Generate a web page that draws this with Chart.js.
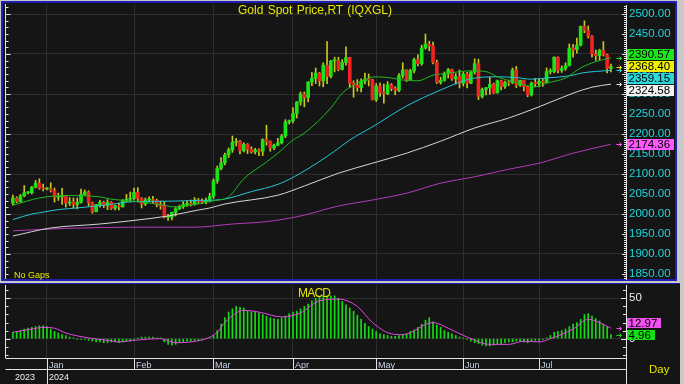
<!DOCTYPE html>
<html><head><meta charset="utf-8">
<script src="https://cdn.jsdelivr.net/npm/chart.js@4.4.1/dist/chart.umd.min.js"></script>
<style>
html,body{margin:0;padding:0;}
body{width:684px;height:384px;background:#c8c8c8;position:relative;overflow:hidden;font-family:Arial,"Liberation Sans",sans-serif;}
#mainPanel{position:absolute;left:1px;top:1px;width:676px;height:280px;box-sizing:border-box;border:2px solid #1f1fb4;background:#151515;}
#macdPanel{position:absolute;left:0;top:283px;width:680px;height:101px;box-sizing:border-box;border-top:1px solid #1f1fb4;background:#151515;}
canvas{position:absolute;}
#c1{left:0;top:0;}
#c2{left:0;top:283px;}
.t{position:absolute;white-space:nowrap;color:#e6e600;line-height:1;}
</style></head>
<body>
<div id="mainPanel"></div>
<div id="macdPanel"></div>
<canvas id="c1" width="684" height="281"></canvas>
<canvas id="c2" width="684" height="101"></canvas>
<div class="t" style="left:238px;top:4px;font-size:12px;word-spacing:1px;">Gold Spot Price,RT (IQXGL)</div>
<div class="t" style="left:14px;top:271px;font-size:9px;">No Gaps</div>
<div class="t" style="left:298px;top:287px;font-size:12px;letter-spacing:-0.8px;">MACD</div>
<div class="t" style="left:649px;top:364px;font-size:11.5px;">Day</div>
<script>
Chart.defaults.font.family = 'Arial, "Liberation Sans", sans-serif';

// ---- daily OHLC, index 0 = 19 Dec 2023 ... index 158 = 26 Jul 2024 ----
const openP = [
2027,2040,2031,2045,2053,2053,2067,2077,2065,2063,
2063,2058,2042,2043,2045,2027,2030,2024,2029,2049,
2055,2028,2006,2023,2029,2022,2029,2014,2020,2018,
2033,2037,2039,2054,2039,2025,2035,2035,2034,2024,
2020,1992,1992,2004,2013,2018,2024,2026,2024,2035,
2031,2030,2034,2044,2083,2114,2128,2148,2160,2179,
2182,2158,2174,2162,2155,2160,2157,2186,2181,2165,
2172,2178,2195,2230,2233,2251,2280,2300,2291,2330,
2339,2352,2333,2372,2344,2383,2383,2361,2379,2391,
2327,2322,2316,2332,2337,2335,2286,2320,2303,2301,
2323,2314,2309,2346,2360,2336,2358,2386,2376,2415,
2425,2421,2379,2329,2334,2351,2361,2338,2343,2327,
2350,2327,2355,2376,2294,2311,2316,2324,2303,2333,
2319,2329,2328,2360,2322,2334,2319,2298,2327,2326,
2332,2329,2356,2356,2392,2359,2364,2371,2415,2411,
2422,2469,2459,2445,2400,2396,2409,2398,2364];
const highP = [
2047,2043,2049,2071,2056,2069,2084,2088,2075,2066,
2078,2065,2052,2064,2046,2041,2040,2040,2062,2060,
2058,2030,2024,2034,2032,2036,2031,2023,2027,2036,
2049,2055,2065,2066,2041,2040,2043,2044,2037,2032,
2031,1999,2005,2016,2022,2031,2033,2035,2041,2039,
2038,2040,2052,2088,2120,2141,2152,2165,2195,2189,
2184,2178,2176,2168,2164,2163,2188,2222,2183,2175,
2189,2199,2236,2235,2266,2281,2305,2305,2331,2354,
2365,2354,2378,2431,2384,2392,2392,2386,2418,2392,
2333,2336,2338,2352,2350,2337,2326,2327,2325,2331,
2326,2318,2351,2378,2361,2362,2390,2398,2422,2450,
2432,2430,2385,2342,2355,2364,2362,2351,2360,2354,
2354,2356,2388,2387,2315,2316,2342,2327,2335,2335,
2332,2335,2365,2369,2335,2335,2320,2330,2339,2338,
2337,2365,2363,2393,2393,2370,2378,2425,2424,2440,
2470,2483,2470,2446,2410,2412,2431,2400,2375];
const lowP = [
2022,2028,2029,2043,2050,2050,2065,2062,2058,2060,
2055,2030,2034,2024,2017,2021,2015,2013,2027,2046,
2020,2002,2005,2017,2016,2011,2011,2010,2010,2017,
2030,2031,2035,2030,2015,2021,2030,2026,2018,2012,
1990,1984,1985,1995,2011,2014,2019,2020,2022,2026,
2026,2025,2030,2039,2077,2110,2123,2141,2154,2170,
2150,2155,2151,2152,2150,2146,2146,2172,2157,2161,
2170,2175,2191,2225,2228,2240,2272,2268,2280,2321,
2326,2320,2318,2326,2340,2355,2358,2360,2372,2316,
2292,2307,2305,2325,2320,2285,2281,2294,2277,2298,
2308,2298,2306,2340,2331,2335,2353,2370,2372,2412,
2408,2375,2326,2325,2332,2340,2334,2325,2315,2320,
2315,2326,2350,2286,2290,2298,2299,2301,2302,2310,
2314,2321,2326,2316,2319,2308,2293,2295,2318,2318,
2319,2328,2350,2353,2353,2354,2359,2370,2392,2402,
2420,2453,2440,2392,2384,2385,2395,2353,2355];
const closeP = [
2040,2031,2045,2053,2053,2067,2077,2065,2063,2063,
2058,2042,2043,2045,2027,2030,2024,2029,2049,2055,
2028,2006,2023,2029,2022,2029,2014,2020,2018,2033,
2037,2039,2054,2039,2025,2035,2035,2034,2024,2020,
1992,1992,2004,2013,2018,2024,2026,2024,2035,2031,
2030,2034,2044,2083,2114,2128,2148,2160,2179,2182,
2158,2174,2162,2155,2160,2157,2186,2181,2165,2172,
2178,2195,2230,2233,2251,2280,2300,2291,2330,2339,
2352,2333,2372,2344,2383,2383,2361,2379,2391,2327,
2322,2316,2332,2337,2335,2286,2320,2303,2301,2323,
2314,2309,2346,2360,2336,2358,2386,2376,2415,2425,
2421,2379,2329,2334,2351,2361,2338,2343,2327,2350,
2327,2355,2376,2294,2311,2316,2324,2303,2333,2319,
2329,2328,2360,2322,2334,2319,2298,2327,2326,2332,
2329,2356,2356,2392,2359,2364,2371,2415,2411,2422,
2469,2459,2445,2400,2396,2409,2398,2364,2368.40];

// ---- moving averages: [dayIndex, value] ----
const ma20 = [[0,2022],[7,2040],[14,2046],[23,2043],[26,2037],[32,2032],[40,2022],[42,2018],[47,2022],[53,2033],[57,2043],[61,2088],[67,2130],[70,2152],[74,2185],[77,2202],[84,2265],[87,2302],[90,2322],[94,2340],[96,2343],[100,2340],[103,2335],[107,2333],[111,2347],[115,2352],[121,2358],[125,2356],[128,2343],[132,2331],[138,2318],[141,2327],[146,2340],[150,2365],[154,2381],[158,2390.57]];
const ma50 = [[0,1986],[5,2000],[7,2003],[12,2011],[18,2016],[25,2023],[32,2031],[41,2032],[49,2034],[55,2036],[63,2056],[70,2074],[76,2102],[85,2157],[89,2185],[95,2218],[104,2270],[113,2310],[121,2338],[128,2343],[133,2341],[137,2337],[141,2340],[148,2347],[150,2352],[158,2359.15]];
const ma100 = [[0,1945],[10,1965],[23,1975],[32,1984],[41,1995],[49,2010],[52,2015],[56,2025],[70,2047],[77,2070],[86,2102],[95,2127],[104,2152],[113,2182],[122,2215],[131,2240],[139,2268],[148,2302],[153,2317],[158,2324.58]];
const ma200 = [[0,1958],[14,1964],[32,1967],[48,1967],[58,1975],[67,1981],[76,1995],[86,2020],[95,2035],[104,2052],[113,2077],[122,2093],[131,2112],[139,2127],[148,2152],[158,2174.36]];

// ---- MACD ----
const macdVals = [
8,9,10,12,13,14,15,16,16,15,
12,9,7,5,4,2,1,-1,-1,-1,
-2,-3,-4,-4,-5,-5,-4,-4,-5,-4,
-3,-3,-1,1,2,2,2,2,1,1,
-4,-7,-8,-7,-5,-4,-3,-3,-2,-2,
-1,0,1,4,10,18,26,33,37,40,
39,38,35,33,33,32,30,28,26,25,
24,26,28,31,33,34,37,40,43,47,
50,51,52,53,53,53,50,46,42,38,
34,29,24,19,15,12,9,6,5,4,
3,3,4,5,6,9,11,14,18,23,
26,21,17,14,10,8,6,4,2,1,
-1,-3,-5,-6,-8,-9,-9,-8,-7,-6,
-5,-4,-4,-3,-3,-4,-5,-3,-2,-2,
-1,1,4,8,9,10,12,15,18,20,
24,30,31,28,25,22,18,15,4.96];
const macdSignal = [[0,8],[5,12],[8,14],[11,13],[14,7],[20,1],[25,-2],[28,-4],[32,-2],[39,0],[43,-5],[47,-4],[51,0],[54,8],[56,20],[61,35],[65,33],[71,27],[76,32],[81,47],[86,49],[91,40],[95,20],[100,6],[103,5],[111,20],[115,13],[120,2],[126,-7],[131,-7],[135,-3],[139,-4],[142,0],[148,12],[152,24],[155,20],[158,12.97]];

// ---- axis labels ----
const monthIdx = [9,32,53,74,96,119,139];
const monthLbl = ['Jan','Feb','Mar','Apr','May','Jun','Jul'];
const yearIdx = [0,9];
const yearLbl = ['2023','2024'];
const priceTicks = [1850,1900,1950,2000,2050,2100,2150,2200,2250,2300,2350,2400,2450,2500];
const macdTicks = [0,50];

const xMin = -1.82, xMax = 161.98;
const pMin = 1837.5, pMax = 2522.5;
const mMin = -23.9, mMax = 66.5;

const toXY = arr => arr.map(p => ({x:p[0], y:p[1]}));
const last = arr => arr[arr.length-1][1];

function xScale(){
  return {type:'linear', min:xMin, max:xMax, offset:false,
    afterBuildTicks: s => { s.ticks = monthIdx.map(v => ({value:v})); },
    ticks:{display:false}, grid:{color:'#2e2e2e', drawTicks:false, offset:false}, border:{display:false},
    afterFit: s => { s.height = 0; s.paddingLeft = 0; s.paddingRight = 0; }};
}

function drawTags(ctx, chart, tags, h, gap){
  const a = chart.chartArea, y = chart.scales.y;
  const items = tags.map(t => Object.assign({}, t, {py: y.getPixelForValue(t.v)}));
  items.sort((p,q) => p.py - q.py);
  const f = items.findIndex(t => t.fixed);
  items[f].top = items[f].py - h/2;
  for (let j=f-1;j>=0;j--) items[j].top = Math.min(items[j].py - h/2, items[j+1].top - h - gap);
  for (let j=f+1;j<items.length;j++) items[j].top = Math.max(items[j].py - h/2, items[j-1].top + h + gap);
  ctx.font = '11.5px Arial';
  ctx.lineWidth = 1;
  items.forEach(t => {
    const ay = Math.round(t.py) + 0.5;
    ctx.strokeStyle = t.arrow;
    ctx.beginPath();
    ctx.moveTo(a.right-9.5, ay); ctx.lineTo(a.right-4.5, ay);
    ctx.moveTo(a.right-6.5, ay-2); ctx.lineTo(a.right-4.5, ay); ctx.lineTo(a.right-6.5, ay+2);
    ctx.stroke();
    const txt = t.v.toFixed(2);
    const w = Math.ceil(ctx.measureText(txt).width) + 5;
    const top = Math.round(t.top);
    ctx.fillStyle = t.bg;
    ctx.fillRect(Math.round(a.right)+1, top, w, h);
    ctx.fillStyle = '#000';
    ctx.textBaseline = 'middle';
    ctx.textAlign = 'left';
    ctx.fillText(txt, Math.round(a.right)+2.5, top + h/2 + 0.5);
  });
}

const mainDeco = {
  id:'mainDeco',
  afterDraw(chart){
    const ctx = chart.ctx, a = chart.chartArea, y = chart.scales.y;
    ctx.save();
    ctx.strokeStyle = '#e4e4e4'; ctx.lineWidth = 1;
    ctx.beginPath();
    const lx = Math.round(a.left) - 0.5;
    ctx.moveTo(lx, a.top - 1); ctx.lineTo(lx, a.bottom);
    for (let k=-1; k<60; k++){
      const v = 2500 - k*100/6;
      if (v < pMin) break;
      const py = Math.round(y.getPixelForValue(v)) + 0.5;
      const len = (k % 6 === 0) ? 5 : 3;
      ctx.moveTo(lx, py); ctx.lineTo(lx + len, py);
    }
    for (let v=1840; v<=2520; v+=5){
      const py = Math.round(y.getPixelForValue(v)) + 0.5;
      const len = (v % 50 === 0) ? 4 : 2;
      ctx.moveTo(a.right - len, py); ctx.lineTo(a.right, py);
    }
    ctx.stroke();
    drawTags(ctx, chart, [
      {v:last(ma20), bg:'#1ee61e', arrow:'#1ee61e'},
      {v:closeP[closeP.length-1], bg:'#f0f000', arrow:'#e6e600', fixed:true},
      {v:last(ma50), bg:'#2ad8dc', arrow:'#2ad8dc'},
      {v:last(ma100), bg:'#f2f2f2', arrow:'#f2f2f2'},
      {v:last(ma200), bg:'#ff58ff', arrow:'#ff58ff'}
    ], 11, 1);
    ctx.restore();
  }
};

const macdDeco = {
  id:'macdDeco',
  afterDraw(chart){
    const ctx = chart.ctx, a = chart.chartArea, y = chart.scales.y, x = chart.scales.x;
    ctx.save();
    ctx.strokeStyle = '#e4e4e4'; ctx.lineWidth = 1;
    ctx.beginPath();
    const lx = Math.round(a.left) - 0.5;
    ctx.moveTo(lx, a.top); ctx.lineTo(lx, a.bottom);
    for (let v=-20; v<=60; v+=10){
      const py = Math.round(y.getPixelForValue(v)) + 0.5;
      const len = (v % 50 === 0) ? 5 : 3;
      ctx.moveTo(lx, py); ctx.lineTo(lx + len, py);
      ctx.moveTo(a.right - len, py); ctx.lineTo(a.right, py);
    }
    const rx = Math.round(a.right) + 0.5;
    ctx.moveTo(rx, a.top); ctx.lineTo(rx, chart.height);
    const yb1 = Math.round(a.bottom) + 0.5, yb2 = yb1 + 11;
    ctx.moveTo(lx, yb1); ctx.lineTo(rx, yb1);
    ctx.moveTo(lx, yb2); ctx.lineTo(rx, yb2);
    monthIdx.forEach(i => {
      const px = Math.round(x.getPixelForValue(i)) + 0.5;
      ctx.moveTo(px, yb1); ctx.lineTo(px, yb2);
    });
    yearIdx.forEach(i => {
      if (i <= 0) return;
      const px = Math.round(x.getPixelForValue(i)) + 0.5;
      ctx.moveTo(px, yb2); ctx.lineTo(px, chart.height);
    });
    ctx.stroke();
    ctx.textAlign = 'left'; ctx.textBaseline = 'alphabetic';
    ctx.font = '9px Arial';
    ctx.fillStyle = '#c8d4e8';
    monthIdx.forEach((i,k) => ctx.fillText(monthLbl[k], Math.round(x.getPixelForValue(i)) + 2, yb1 + 9.5));
    ctx.fillStyle = '#f0f0f0';
    yearIdx.forEach((i,k) => ctx.fillText(yearLbl[k], Math.round(x.getPixelForValue(i)) + 2, yb2 + 10.5));
    drawTags(ctx, chart, [
      {v:last(macdSignal), bg:'#f050f0', arrow:'#f050f0'},
      {v:macdVals[macdVals.length-1], bg:'#14e014', arrow:'#14e014', fixed:true}
    ], 10, 2);
    ctx.restore();
  }
};

new Chart(document.getElementById('c1'), {
  type:'bar',
  data:{datasets:[
    {type:'line', label:'MA20', data:toXY(ma20), borderColor:'#22b822', borderWidth:1, pointRadius:0, cubicInterpolationMode:'monotone', order:0},
    {type:'line', label:'MA50', data:toXY(ma50), borderColor:'#26c6d6', borderWidth:1, pointRadius:0, cubicInterpolationMode:'monotone', order:0},
    {type:'line', label:'MA100', data:toXY(ma100), borderColor:'#d6d6d6', borderWidth:1, pointRadius:0, cubicInterpolationMode:'monotone', order:0},
    {type:'line', label:'MA200', data:toXY(ma200), borderColor:'#b03cb8', borderWidth:1, pointRadius:0, cubicInterpolationMode:'monotone', order:0},
    {type:'bar', label:'body', data:closeP.map((c,i) => ({x:i, y:[openP[i], c]})),
      backgroundColor:closeP.map((c,i) => c >= openP[i] ? '#18e418' : '#f02222'),
      barThickness:3, grouped:false, minBarLength:1, borderWidth:0, order:1},
    {type:'bar', label:'wick', data:closeP.map((c,i) => ({x:i, y:[lowP[i], highP[i]]})),
      backgroundColor:'#c8c81e', barThickness:1, grouped:false, borderWidth:0, order:2}
  ]},
  options:{
    responsive:false, animation:false, devicePixelRatio:1,
    layout:{padding:{left:6, top:5, right:0, bottom:2}},
    plugins:{legend:{display:false}, tooltip:{enabled:false}, title:{display:false}},
    scales:{
      x:xScale(),
      y:{position:'right', min:pMin, max:pMax,
        afterBuildTicks: s => { s.ticks = priceTicks.map(v => ({value:v})); },
        ticks:{color:'#1ed6dc', font:{size:11.5}, padding:3, callback: v => Number(v).toFixed(2)},
        grid:{color: c => (c.tick && c.tick.value % 100 === 0) ? '#2e2e2e' : 'rgba(0,0,0,0)', drawTicks:false},
        border:{display:true, color:'#e4e4e4'},
        afterFit: s => { s.width = 58; s.paddingTop = 0; s.paddingBottom = 0; }}
    }
  },
  plugins:[mainDeco]
});

new Chart(document.getElementById('c2'), {
  type:'bar',
  data:{datasets:[
    {type:'line', label:'Signal', data:toXY(macdSignal), borderColor:'#e646e6', borderWidth:1, pointRadius:0, cubicInterpolationMode:'monotone', order:0},
    {type:'bar', label:'MACD', data:macdVals.map((v,i) => ({x:i, y:v})), backgroundColor:'#14dc14', barThickness:1, borderWidth:0, order:1}
  ]},
  options:{
    responsive:false, animation:false, devicePixelRatio:1,
    layout:{padding:{left:6, top:2, right:0, bottom:26}},
    plugins:{legend:{display:false}, tooltip:{enabled:false}, title:{display:false}},
    scales:{
      x:xScale(),
      y:{position:'right', min:mMin, max:mMax,
        afterBuildTicks: s => { s.ticks = macdTicks.map(v => ({value:v})); },
        ticks:{color:'#ececec', font:{size:11.5}, padding:3, callback: v => String(v)},
        grid:{color:'#2e2e2e', drawTicks:false},
        border:{display:true, color:'#e4e4e4'},
        afterFit: s => { s.width = 58; s.paddingTop = 0; s.paddingBottom = 0; }}
    }
  },
  plugins:[macdDeco]
});
</script>
</body></html>
